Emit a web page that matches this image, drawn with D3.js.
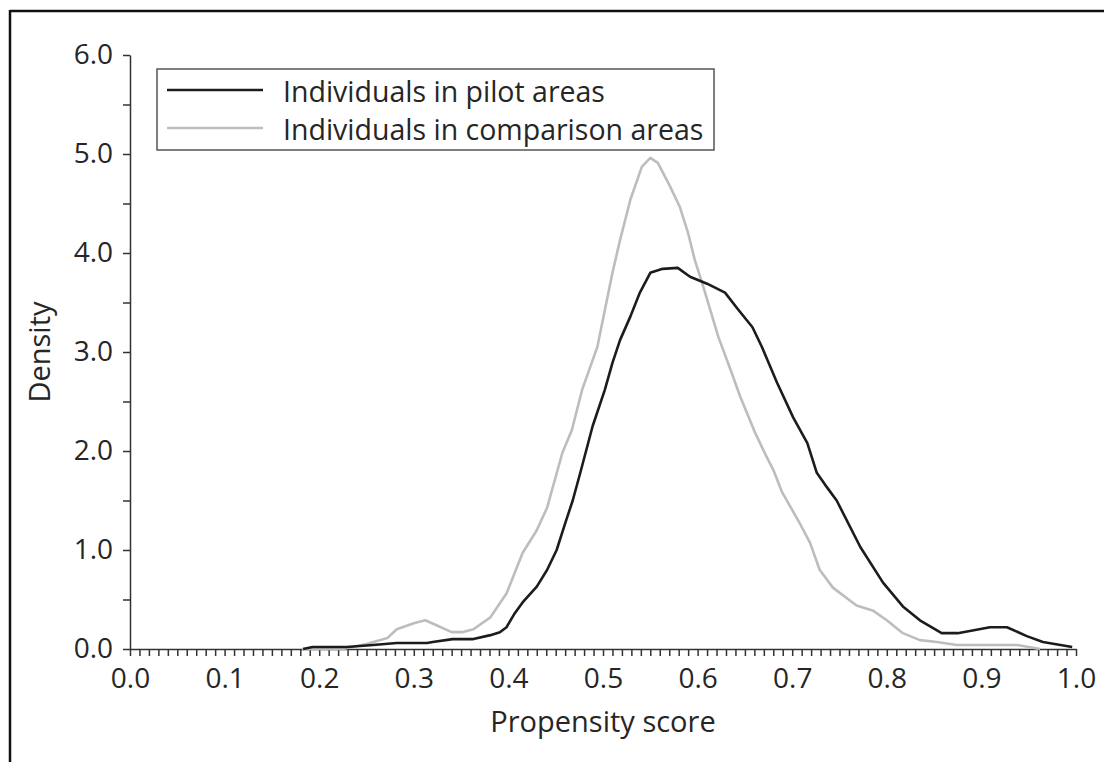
<!DOCTYPE html>
<html>
<head>
<meta charset="utf-8">
<script src="https://cdn.jsdelivr.net/npm/d3@7"></script>
<style>
  body { margin: 0; background: #fff; }
  svg { display: block; font-family: 'Open Sans', sans-serif; }
  .axis path, .axis line { stroke: #333; stroke-width: 1.5; }
  .axis text { font-size: 28px; fill: #262626; font-family: 'Open Sans', sans-serif; }
  .axis-title { font-size: 29px; fill: #262626; }
  .legend-label { font-size: 28.5px; fill: #262626; }
</style>
</head>
<body>
<svg id="chart"></svg>
<script>
// Kernel density of propensity score: [score, density]
const pilotAreas = [
  [0.183, 0.00], [0.193, 0.02], [0.229, 0.02], [0.257, 0.04], [0.282, 0.06],
  [0.314, 0.06], [0.320, 0.07], [0.341, 0.10], [0.363, 0.10], [0.381, 0.14],
  [0.391, 0.17], [0.398, 0.22], [0.406, 0.35], [0.415, 0.47], [0.430, 0.63],
  [0.441, 0.80], [0.451, 1.00], [0.460, 1.27], [0.468, 1.50], [0.476, 1.78],
  [0.489, 2.25], [0.502, 2.62], [0.510, 2.89], [0.518, 3.12], [0.529, 3.36],
  [0.539, 3.60], [0.550, 3.80], [0.563, 3.84], [0.579, 3.85], [0.592, 3.76],
  [0.610, 3.69], [0.629, 3.60], [0.642, 3.44], [0.658, 3.25], [0.668, 3.05],
  [0.684, 2.69], [0.701, 2.34], [0.716, 2.08], [0.726, 1.78], [0.737, 1.63],
  [0.747, 1.50], [0.772, 1.03], [0.796, 0.67], [0.817, 0.43], [0.835, 0.29],
  [0.858, 0.16], [0.875, 0.16], [0.909, 0.22], [0.927, 0.22], [0.948, 0.13],
  [0.965, 0.07], [0.996, 0.02]
];

const comparisonAreas = [
  [0.182, 0.00], [0.225, 0.00], [0.250, 0.05], [0.272, 0.11], [0.282, 0.20],
  [0.300, 0.26], [0.312, 0.29], [0.324, 0.24], [0.340, 0.17], [0.351, 0.17],
  [0.363, 0.20], [0.381, 0.32], [0.398, 0.56], [0.415, 0.97], [0.430, 1.20],
  [0.441, 1.43], [0.457, 1.98], [0.467, 2.21], [0.478, 2.62], [0.494, 3.05],
  [0.510, 3.80], [0.518, 4.13], [0.529, 4.54], [0.541, 4.87], [0.550, 4.96],
  [0.558, 4.91], [0.571, 4.67], [0.581, 4.47], [0.590, 4.20], [0.597, 3.93],
  [0.606, 3.66], [0.622, 3.15], [0.636, 2.79], [0.645, 2.55], [0.661, 2.18],
  [0.673, 1.94], [0.680, 1.81], [0.689, 1.59], [0.708, 1.27], [0.719, 1.07],
  [0.729, 0.80], [0.743, 0.62], [0.768, 0.44], [0.785, 0.39], [0.800, 0.29],
  [0.817, 0.16], [0.835, 0.09], [0.853, 0.07], [0.874, 0.04], [0.938, 0.04],
  [0.962, 0.00]
];

const seriesNames = ['Individuals in pilot areas', 'Individuals in comparison areas'];
const seriesColors = ['#1c1c1c', '#bdbdbd'];

const xTicks = d3.range(0, 101).map(i => i / 100);   // minor ticks every 0.01
const xLabels = d3.range(0, 11).map(i => i / 10);
const yTicks = d3.range(0, 13).map(i => i / 2);      // ticks every 0.5
const yLabels = [0, 1, 2, 3, 4, 5, 6];

const containerWidth = 1104, containerHeight = 762;
const margin = {top: 55, right: 28, bottom: 113, left: 130};
const width = containerWidth - margin.left - margin.right;
const height = containerHeight - margin.top - margin.bottom;

const svg = d3.select('#chart')
    .attr('width', containerWidth)
    .attr('height', containerHeight);

// Frame (left and top edge only, as in the source figure)
svg.append('line').attr('x1', 10).attr('x2', 10).attr('y1', 10).attr('y2', containerHeight)
    .attr('stroke', '#111').attr('stroke-width', 2.5);
svg.append('line').attr('x1', 10).attr('x2', containerWidth).attr('y1', 11).attr('y2', 11)
    .attr('stroke', '#111').attr('stroke-width', 2.5);

const chart = svg.append('g')
    .attr('transform', `translate(${margin.left},${margin.top})`);

const xScale = d3.scaleLinear().domain([0, 1]).range([0, width]);
const yScale = d3.scaleLinear().domain([0, 6]).range([height, 0]);

const xAxis = d3.axisBottom(xScale)
    .tickValues(xTicks)
    .tickSize(7)
    .tickSizeOuter(0)
    .tickPadding(12)
    .tickFormat(d => xLabels.some(v => Math.abs(v - d) < 1e-9) ? d3.format('.1f')(d) : '');

const yAxis = d3.axisLeft(yScale)
    .tickValues(yTicks)
    .tickSize(7)
    .tickSizeOuter(0)
    .tickPadding(10)
    .tickFormat(d => yLabels.includes(d) ? d3.format('.1f')(d) : '');

chart.append('g')
    .attr('class', 'axis x-axis')
    .attr('transform', `translate(0,${height})`)
    .call(xAxis);

chart.append('g')
    .attr('class', 'axis y-axis')
    .call(yAxis);

chart.append('text')
    .attr('class', 'axis-title')
    .attr('x', width / 2)
    .attr('y', height + 83)
    .style('text-anchor', 'middle')
    .text('Propensity score');

chart.append('text')
    .attr('class', 'axis-title')
    .attr('transform', `translate(${-80},${height / 2}) rotate(-90)`)
    .style('text-anchor', 'middle')
    .text('Density');

const line = d3.line()
    .x(d => xScale(d[0]))
    .y(d => yScale(d[1]));

// draw comparison first so pilot line sits on top
[comparisonAreas, pilotAreas].forEach((data, i) => {
  chart.append('path')
      .datum(data)
      .attr('fill', 'none')
      .attr('stroke', seriesColors[1 - i])
      .attr('stroke-width', 2.6)
      .attr('stroke-linejoin', 'round')
      .attr('d', line);
});

// Legend
const legend = svg.append('g').attr('transform', 'translate(157,69)');
legend.append('rect')
    .attr('width', 557)
    .attr('height', 81)
    .attr('fill', '#fff')
    .attr('stroke', '#555')
    .attr('stroke-width', 1.5);

seriesNames.forEach((name, i) => {
  const row = legend.append('g').attr('transform', `translate(0,${21 + i * 38})`);
  row.append('line')
      .attr('x1', 10).attr('x2', 106)
      .attr('stroke', seriesColors[i])
      .attr('stroke-width', 2.6);
  row.append('text')
      .attr('class', 'legend-label')
      .attr('x', 126)
      .attr('y', 12)
      .text(name);
});
</script>
</body>
</html>
